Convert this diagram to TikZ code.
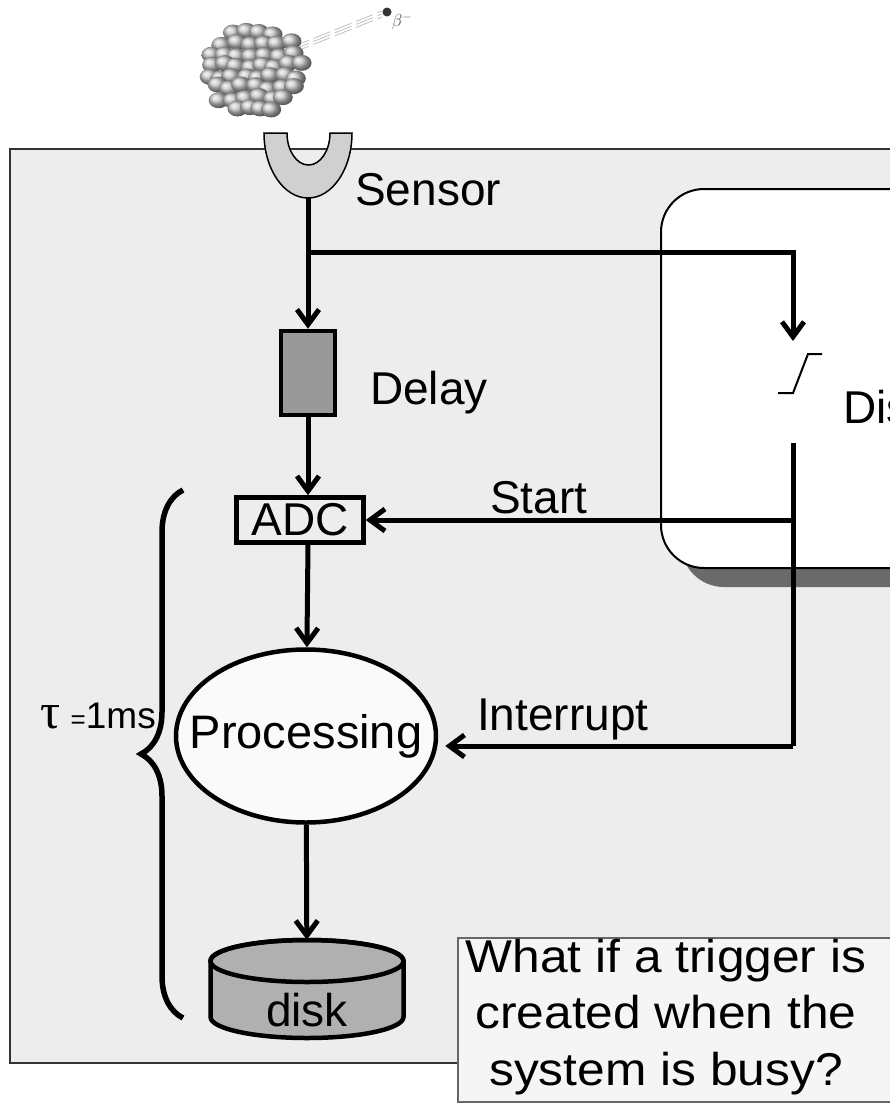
\documentclass[tikz,border=0pt]{standalone}
\usepackage{fontspec}
\setmainfont{Liberation Sans}
\newfontfamily\greekfont{Liberation Serif}
\newfontfamily\widesans[FakeStretch=1.08]{Liberation Sans}
\usepackage{tikz}
\usetikzlibrary{arrows.meta,positioning,shapes.geometric,shadows,decorations.pathreplacing}

\definecolor{panelgray}{HTML}{EDEDED}
\definecolor{delaygray}{HTML}{999999}
\definecolor{diskgray}{HTML}{B0B0B0}
\definecolor{cupgray}{HTML}{D0D0D0}
\definecolor{shadowgray}{HTML}{6A6A6A}
\definecolor{notegray}{HTML}{F5F5F5}

\begin{document}
\begin{tikzpicture}[x=1pt, y=-1pt, >={Straight Barb[length=15pt,width=22pt]},
  flow/.style={->, line width=5pt},
  wire/.style={line width=5pt},
  txt/.style={inner sep=0pt, font=\fontsize{46}{52}\selectfont}]
% Page and panel
\useasboundingbox (0,0) rectangle (890,1104);
\clip (0,0) rectangle (890,1104);
\fill[white] (0,0) rectangle (890,1104);
\draw[fill=panelgray, draw=black!80, line width=1.5pt] (10,149) rectangle (930,1063);

% Nucleus emitting a beta electron
\foreach \dy in {-3,0,3}
  \draw[gray!50, line width=0.8pt, dash pattern=on 18pt off 5pt] (292,50+\dy) -- (382,14+\dy);
\pgfmathsetseed{7}
\foreach \row in {0,...,7} {
  \pgfmathsetmacro\by{32+11*\row}
  \pgfmathsetmacro\bw{44*sqrt(max(0.1,1-((\by-70)/42)^2))}
  \pgfmathtruncatemacro\bn{\bw/7+1}
  \foreach \col in {0,...,\bn} {
    \pgfmathsetmacro\bx{252-\bw+2*\bw*\col/\bn+mod(\row,2)*4+rand*2.5}
    \pgfmathsetmacro\byy{\by+rand*2.5}
    \shade[ball color=gray!45] (\bx,\byy) ellipse[x radius=10, y radius=8];
  }
}
\fill[black!80] (387,12) circle[radius=4.5];
\node[inner sep=0pt, font=\fontsize{17}{18}\selectfont, text=black!70] (beta) at (402,22) {$\beta^-$};

% Discriminator
\node[draw, fill=white, line width=2pt, rounded corners=43pt, minimum width=340pt, minimum height=379pt,
  anchor=north west, drop shadow={shadow xshift=20pt, shadow yshift=-19pt, fill=shadowgray, opacity=1}]
  (discbox) at (660,188) {};
\node[txt, anchor=base west] (disclabel) at (843,423) {Discriminator};

% Sensor
\filldraw[fill=cupgray, line width=1.5pt] (264,133)
  arc[start angle=180, end angle=0, x radius=44, y radius=65] -- (330,133)
  arc[start angle=0, end angle=180, x radius=21.5, y radius=32] -- cycle;
\coordinate (sensor) at (308,198);
\node[txt, anchor=base west] (sensorlabel) at (355,205) {Sensor};

% Signal chain
\node[draw, fill=delaygray, line width=4.5pt, minimum width=54pt, minimum height=84pt, inner sep=0pt] (delay) at (308,373) {};
\node[txt, anchor=base west] (delaylabel) at (370,404) {Delay};
\node[draw, fill=panelgray, line width=4.5pt, minimum width=127pt, minimum height=45pt, inner sep=0pt, txt] (adc) at (300,520) {ADC};
\node[draw, ellipse, fill=black!2, line width=4.5pt, minimum width=260pt, minimum height=173pt, inner sep=0pt] (proc) at (306,736) {};
\node[inner sep=0pt, font=\fontsize{47}{52}\selectfont] (proclabel) at (proc.center) {Processing};
\node[minimum width=193pt, minimum height=98pt, inner sep=0pt] (disk) at (307,989) {};
\filldraw[fill=diskgray, line width=4.5pt] (210.5,961) -- (210.5,1017)
  arc[start angle=180, end angle=0, x radius=96.5, y radius=21] -- (403.5,961)
  arc[start angle=0, end angle=-180, x radius=96.5, y radius=21] -- cycle;
\draw[line width=4.5pt] (307,961) ellipse[x radius=96.5, y radius=21];
\node[txt] (disklabel) at (307,1010) {disk};

% Trigger path
\coordinate (split) at (308,252);
\coordinate (trigin) at (793,341);
\coordinate (trigout) at (793,443);
\coordinate (startpt) at (793,520);
\coordinate (intpt) at (793,746);
\draw[line width=2pt] (778,393) -- (793,393) -- (808,354) -- (822,354);

% Connections
\draw[flow] (sensor) -- (delay);
\draw[flow] (split) -| (trigin);
\draw[wire] (trigout) -- (intpt);
\draw[flow] (delay) -- (delay |- adc.north);
\draw[flow] (delay |- adc.south) -- (proc);
\draw[flow] (proc) -- (disk);
\draw[flow] (startpt) -- (adc.east);
\draw[flow] (intpt) -- ([xshift=7pt]intpt -| proc.east);
\node[txt, anchor=base west] (startlabel) at (490,513) {Start};
\node[txt, anchor=base west] (intlabel) at (477,730) {Interrupt};

% Dead time
\draw[line width=5.5pt, decorate, decoration={brace, amplitude=42pt}] (183,1018) -- (183,490);
\node[inner sep=0pt, anchor=base east, font=\fontsize{37}{40}\selectfont] (tau) at (156,728)
  {{\greekfont\fontsize{50}{52}\selectfont τ} {\fontsize{26}{28}\selectfont =}1ms};

% Question
\draw[draw=black!60, fill=notegray, line width=1.5pt] (458,938) rectangle (930,1102);
\node[inner sep=0pt, align=center, font=\widesans\fontsize{46}{56.5}\selectfont] (note) at (666,1017)
  {What if a trigger is\\created when the\\system is busy?};
\end{tikzpicture}
\end{document}
